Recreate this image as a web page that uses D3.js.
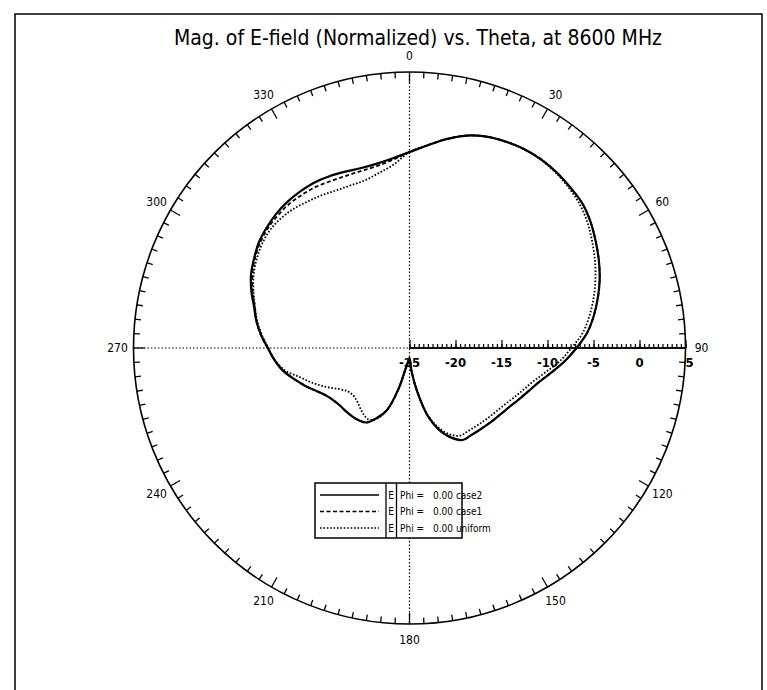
<!DOCTYPE html>
<html>
<head>
<meta charset="utf-8">
<script src="https://cdn.jsdelivr.net/npm/d3@7"></script>
<style>
  html, body { margin: 0; padding: 0; background: #fff; }
  svg { display: block; }
  text { fill: #000; }
</style>
</head>
<body>
<svg id="chart" width="767" height="690"></svg>
<script>
// ---------------- DATA ----------------
const titleText = "Mag. of E-field (Normalized) vs. Theta, at 8600 MHz";
const thetaDeg = [0,5,10,15,20,25,30,35,40,45,50,55,60,65,70,75,80,85,90,95,100,105,110,115,120,125,130,135,140,145,150,155,160,165,170,175,180,185,190,195,200,205,210,215,220,225,230,235,240,245,250,255,260,265,270,275,280,285,290,295,300,305,310,315,320,325,330,335,340,345,350,355];
const case2 = [-3.7,-2.9,-1.95,-1.1,-0.55,-0.25,-0.05,0.0,-0.1,-0.3,-0.5,-1.0,-1.65,-2.3,-3.0,-3.8,-4.65,-5.6,-6.85,-8.1,-9.4,-10.5,-11.25,-11.85,-12.35,-12.7,-12.95,-13.15,-13.3,-13.4,-13.45,-14.25,-15.5,-17.4,-20.2,-22.5,-23.9,-23.6,-22.9,-20.4,-17.8,-16.6,-15.65,-15.4,-15.3,-15.25,-15.2,-15.0,-14.6,-13.9,-12.95,-12.0,-11.0,-10.25,-9.6,-8.8,-8.1,-7.5,-6.7,-6.0,-5.5,-5.0,-4.7,-4.45,-4.3,-4.25,-4.25,-4.4,-4.6,-4.75,-4.65,-4.3];
const case1 = [-3.7,-2.9,-1.95,-1.1,-0.55,-0.25,-0.05,0.0,-0.1,-0.3,-0.5,-1.0,-1.65,-2.3,-3.0,-3.8,-4.65,-5.6,-6.85,-8.1,-9.4,-10.5,-11.25,-11.85,-12.35,-12.7,-12.95,-13.15,-13.3,-13.4,-13.45,-14.25,-15.5,-17.4,-20.2,-22.5,-23.9,-23.6,-22.9,-20.4,-17.8,-16.6,-15.65,-15.4,-15.3,-15.25,-15.2,-15.0,-14.6,-13.9,-12.95,-12.0,-11.0,-10.25,-9.6,-8.8,-8.1,-7.6,-6.85,-6.15,-5.6,-5.15,-4.85,-4.7,-4.6,-4.65,-4.75,-4.95,-5.05,-5.05,-4.9,-4.45];
const uniform = [-3.7,-2.9,-1.95,-1.1,-0.55,-0.25,-0.05,-0.05,-0.2,-0.45,-0.8,-1.35,-2.05,-2.75,-3.5,-4.3,-5.15,-6.1,-7.4,-8.6,-9.95,-11.05,-11.8,-12.4,-12.9,-13.25,-13.5,-13.7,-13.85,-13.95,-14.0,-14.65,-15.8,-17.5,-20.2,-22.5,-23.9,-23.6,-22.9,-20.4,-17.8,-16.5,-16.05,-16.25,-16.6,-16.9,-17.0,-16.8,-16.1,-15.0,-13.85,-12.7,-11.2,-10.3,-9.65,-8.9,-8.2,-7.6,-6.95,-6.3,-5.8,-5.4,-5.15,-5.15,-5.3,-5.6,-5.85,-6.1,-6.2,-6.15,-5.7,-5.0];
const seriesNames = ["case2", "case1", "uniform"];
const legendLabels = ["0.00 case2", "0.00 case1", "0.00 uniform"];
const angleLabels = [0,30,60,90,120,150,180,210,240,270,300,330];
const radialTicks = [-25,-20,-15,-10,-5,0,5];

// ---------------- LAYOUT ----------------
const cx = 409.5, cy = 348, R = 276;
const svg = d3.select("#chart");
const fontNarrow = "'Liberation Sans Narrow','DejaVu Sans Condensed','Liberation Sans',sans-serif";

// frame
svg.append("rect").attr("x", 15).attr("y", 14).attr("width", 747).attr("height", 690)
  .attr("fill", "none").attr("stroke", "#000").attr("stroke-width", 1.5);

// title
svg.append("text").attr("x", 418).attr("y", 45).attr("text-anchor", "middle")
  .attr("font-family", fontNarrow).attr("font-size", 21)
  .text(titleText);

const rScale = d3.scaleLinear().domain([-25, 5]).range([0, R]);
const toRad = d => d * Math.PI / 180;
const g = svg.append("g").attr("transform", `translate(${cx},${cy})`);

// outer circle
g.append("circle").attr("r", R).attr("fill", "none").attr("stroke", "#000").attr("stroke-width", 1.6);

// angular ticks every 3 degrees
const angTicks = d3.range(0, 360, 3);
g.selectAll("line.atick").data(angTicks).join("line")
  .attr("class", "atick")
  .attr("x1", d => Math.sin(toRad(d)) * R)
  .attr("y1", d => -Math.cos(toRad(d)) * R)
  .attr("x2", d => Math.sin(toRad(d)) * (R - (d % 30 === 0 ? 11 : 6)))
  .attr("y2", d => -Math.cos(toRad(d)) * (R - (d % 30 === 0 ? 11 : 6)))
  .attr("stroke", "#000").attr("stroke-width", 1.3);

// angle labels
g.selectAll("text.alab").data(angleLabels).join("text")
  .attr("class", "alab")
  .attr("x", d => Math.sin(toRad(d)) * (R + 16))
  .attr("y", d => -Math.cos(toRad(d)) * (R + 16))
  .attr("text-anchor", "middle").attr("dominant-baseline", "central")
  .attr("font-family", fontNarrow).attr("font-size", 12)
  .text(d => d);

// dotted axes
g.append("line").attr("x1", 0).attr("y1", -R).attr("x2", 0).attr("y2", R)
  .attr("stroke", "#000").attr("stroke-width", 1.2).attr("stroke-dasharray", "1.5,2");
g.append("line").attr("x1", -R).attr("y1", 0).attr("x2", 0).attr("y2", 0)
  .attr("stroke", "#000").attr("stroke-width", 1.2).attr("stroke-dasharray", "1.5,2");

// radial axis (solid, ticks upward)
const minorAxis = d3.axisTop(rScale).tickValues(d3.range(-25, 5.01, 0.5)).tickSize(4).tickFormat("");
const majorAxis = d3.axisTop(rScale).tickValues(radialTicks).tickSize(8).tickFormat("");
const ax1 = g.append("g").call(minorAxis);
const ax2 = g.append("g").call(majorAxis);
[ax1, ax2].forEach(a => {
  a.selectAll("path.domain").attr("stroke", "#000").attr("stroke-width", 1.5).attr("d", `M0,0H${R}`);
  a.selectAll(".tick line").attr("stroke", "#000").attr("stroke-width", 1.2);
});
g.selectAll("text.rlab").data(radialTicks).join("text")
  .attr("class", "rlab")
  .attr("x", d => rScale(d) + (d === 5 ? 4 : 0))
  .attr("y", 14)
  .attr("text-anchor", "middle").attr("dominant-baseline", "central")
  .attr("font-family", fontNarrow).attr("font-size", 13).attr("font-weight", "bold")
  .text(d => d);

// curves
const styles = {
  case2:   { w: 2.2, dash: null },
  case1:   { w: 1.8, dash: "4,2.5" },
  uniform: { w: 1.8, dash: "1.6,1.8" }
};
const dataMap = { case2, case1, uniform };
const line = d3.lineRadial()
  .angle(d => toRad(d[0]))
  .radius(d => rScale(d[1]))
  .curve(d3.curveCatmullRomClosed.alpha(0.5));

["uniform", "case1", "case2"].forEach(name => {
  const pts = thetaDeg.map((t, i) => [t, dataMap[name][i]]);
  g.append("path").attr("d", line(pts))
    .attr("fill", "none").attr("stroke", "#000")
    .attr("stroke-width", styles[name].w)
    .attr("stroke-dasharray", styles[name].dash)
    .attr("stroke-linejoin", "round");
});

// legend
const lx = 315, ly = 483, lw = 147, lh = 55;
const lg = svg.append("g");
lg.append("rect").attr("x", lx).attr("y", ly).attr("width", lw).attr("height", lh)
  .attr("fill", "#fff").attr("stroke", "#000").attr("stroke-width", 1.5);
lg.append("line").attr("x1", 386).attr("x2", 386).attr("y1", ly).attr("y2", ly + lh).attr("stroke", "#000").attr("stroke-width", 1.3);
lg.append("line").attr("x1", 396.5).attr("x2", 396.5).attr("y1", ly).attr("y2", ly + lh).attr("stroke", "#000").attr("stroke-width", 1.3);
const rowY = [495, 511.5, 528];
seriesNames.forEach((name, i) => {
  lg.append("line").attr("x1", 320).attr("x2", 379).attr("y1", rowY[i]).attr("y2", rowY[i])
    .attr("stroke", "#000").attr("stroke-width", styles[name].w * 0.7)
    .attr("stroke-dasharray", styles[name].dash);
  lg.append("text").attr("x", 391.2).attr("y", rowY[i]).attr("text-anchor", "middle")
    .attr("dominant-baseline", "central").attr("font-family", fontNarrow).attr("font-size", 10)
    .text("E");
  lg.append("text").attr("x", 400).attr("y", rowY[i])
    .attr("dominant-baseline", "central").attr("font-family", fontNarrow).attr("font-size", 10)
    .text("Phi =");
  lg.append("text").attr("x", 433).attr("y", rowY[i])
    .attr("dominant-baseline", "central").attr("font-family", fontNarrow).attr("font-size", 10)
    .text(legendLabels[i]);
});
</script>
</body>
</html>
